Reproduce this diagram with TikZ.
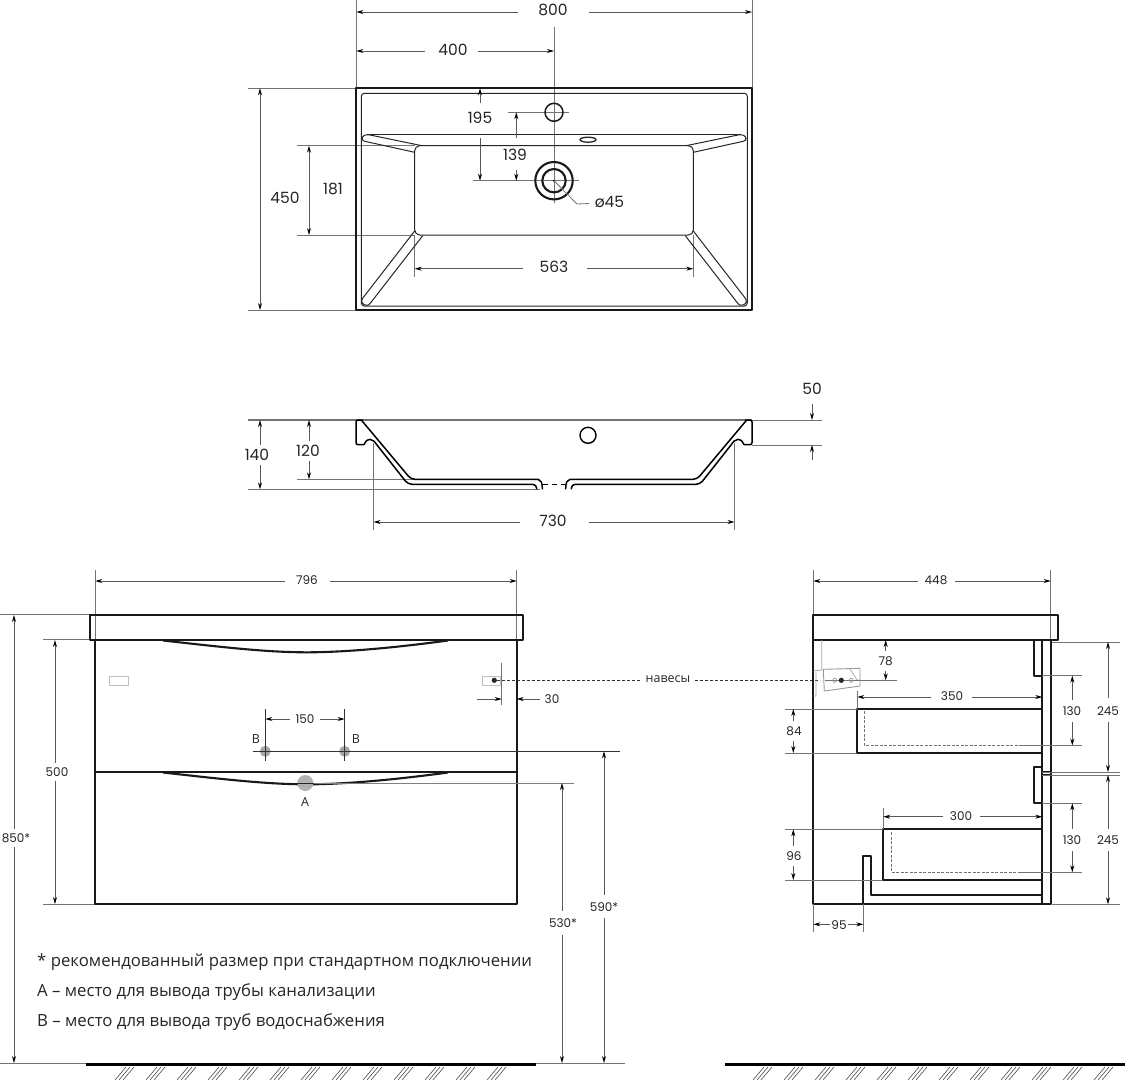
\documentclass[tikz,border=0pt]{standalone}
\usepackage{fontspec}
\setmainfont{Poppins}
\newfontfamily\legendfont{Open Sans}
\usetikzlibrary{arrows.meta}

\begin{document}
\begin{tikzpicture}[x=1pt, y=-1pt, line join=round]
\tikzstyle{every node}+=[inner sep=0pt, text=black!85]
\tikzstyle{bold}=[black!90, line width=2.1pt]
\tikzstyle{thinline}=[black!85, line width=1pt]
\tikzstyle{ext}=[black!55, line width=0.8pt]
\tikzstyle{dim}=[black!65, line width=0.8pt, {Stealth[length=7pt,width=4pt,black]}-{Stealth[length=7pt,width=4pt,black]}]
\tikzstyle{dimone}=[black!65, line width=0.8pt, -{Stealth[length=7pt,width=4pt,black]}]
\tikzstyle{big}=[font=\fontsize{15.5}{17}\selectfont]
\tikzstyle{small}=[font=\fontsize{12}{14}\selectfont]
\tikzstyle{smallcyr}=[font=\legendfont\fontsize{12.5}{14}\selectfont]
\tikzstyle{legend}=[anchor=base west, font=\legendfont\fontsize{16.75}{18}\selectfont]
\useasboundingbox (0,0) rectangle (1125,1080);
\fill [white] (0,0) rectangle (1125,1080);
% top view
\draw [ext] (356.3,0) -- (356.3,88);
\draw [ext] (752,0) -- (752,88);
\draw [ext] (554,27) -- (554,203);
\draw [ext] (248,88.3) -- (356,88.3);
\draw [ext] (248,310) -- (356,310);
\draw [ext] (297,145.7) -- (415,145.7);
\draw [ext] (297,235) -- (415,235);
\draw [ext] (507.7,112.3) -- (569,112.3);
\draw [ext] (472.7,180.7) -- (579,180.7);
\draw [ext] (414.7,235) -- (414.7,277);
\draw [ext] (693.3,235) -- (693.3,277);
\draw [bold] (356.3,88.3) rectangle (752,310);
\draw [thinline, rounded corners=3] (361.3,93.3) rectangle (747.3,306);
\draw [thinline, rounded corners=5] (414.7,145.7) rectangle (693.3,235);
\draw [thinline] (366.7,134.3) -- (741.3,134.3);
\foreach \s/\o in {1/0,-1/1108} {
\begin{scope}[shift={(\o,0)}, xscale=\s]
\draw [thinline, rounded corners=2.5] (421,145.5) -- (366.7,134.3) -- (362,136.5) -- (362,140.7) -- (414.7,152.3);
\draw [thinline, rounded corners=2.5] (414.7,231) -- (361.3,300) -- (362,304) -- (368.3,305.8) -- (422.7,235.7);
\end{scope}
}
\draw [bold, line width=1.5pt] (554,112.3) circle (9);
\draw [thinline, line width=1.3pt] (588,139.7) ellipse (8 and 2.5);
\draw [bold] (554,180.7) circle (18.7);
\draw [bold] (554,180.7) circle (11.7);
\fill [black] (554,180.7) circle (1.2);
\draw [ext] (554,180.7) -- (577,204) -- (589,203.5);
\node [big] (lab45) at (609.5,202) {ø45};
\draw [dimone] (518,12) -- (356.3,12);
\draw [dimone] (589,12) -- (752,12);
\node [big] (lab800) at (553,10) {800};
\draw [dimone] (425,51) -- (356.3,51);
\draw [dimone] (478,51) -- (554,51);
\node [big] (lab400) at (453,50) {400};
\draw [dimone] (480,103) -- (480,88.3);
\draw [dimone] (480,138) -- (480,180.7);
\node [big] (lab195) at (480,118) {195};
\draw [dimone] (516.3,138) -- (516.3,112.3);
\draw [dimone] (516.3,170) -- (516.3,180.7);
\node [big] (lab139) at (515,155) {139};
\draw [dimone] (522.7,268.7) -- (414.7,268.7);
\draw [dimone] (586.7,268.7) -- (693.3,268.7);
\node [big] (lab563) at (554,267) {563};
\draw [dim] (260,88.3) -- (260,310);
\node [big] (lab450) at (285,198) {450};
\draw [dim] (309,145.7) -- (309,235);
\node [big] (lab181) at (333,189) {181};
% section
\draw [ext, line width=1.1pt] (248,420) -- (356,420);
\draw [ext, line width=1.1pt] (356,420) -- (752,420);
\draw [ext] (752,420) -- (822,420);
\draw [ext] (752,445) -- (822,445);
\draw [ext] (297,479.3) -- (540,479.3);
\draw [ext] (248,489.3) -- (540,489.3);
\draw [ext] (373.5,443) -- (373.5,530);
\draw [ext] (734.5,443) -- (734.5,530);
\foreach \s/\o in {1/0,-1/1108} {
\begin{scope}[shift={(\o,0)}, xscale=\s]
\draw [black, line width=1.5pt, rounded corners=2] (363,420) -- (356,420) -- (356,444.7) -- (364,444.7);
\draw [black, line width=1.5pt] (364,444.7) .. controls (366,441) and (367,439) .. (370,439.3) .. controls (373,439.5) and (375,442) .. (377,445);
\draw [black, line width=1.5pt, rounded corners=4] (377,445) -- (408,484.3) -- (536.7,484.3) -- (536.7,489.3);
\draw [black, line width=1.5pt, rounded corners=4] (361.3,420) -- (411,479.3) -- (538,479.3);
\draw [black, line width=1.5pt] (538,479.3) .. controls (541,480) and (542.3,482) .. (542.3,489.3);
\end{scope}
}
\draw [black, line width=0.9pt, dashed, dash pattern=on 5pt off 4pt] (543,484) -- (565,484);
\draw [black, line width=1.4pt] (588,435.3) circle (8);
\draw [dimone] (812,404) -- (812,420);
\draw [dimone] (812,460) -- (812,445);
\node [big] (lab50) at (812,389) {50};
\draw [dim] (309,420) -- (309,479.3);
\fill [white] (293,441) rectangle (324,461);
\node [big] (lab120) at (308,451) {120};
\draw [dim] (260,420) -- (260,489.3);
\fill [white] (242,445) rectangle (273,465);
\node [big] (lab140) at (257,455) {140};
\draw [dimone] (520,522) -- (373.5,522);
\draw [dimone] (589,522) -- (734.5,522);
\node [big] (lab730) at (553,521) {730};
% front view
\draw [ext] (95.3,570) -- (95.3,640);
\draw [ext] (516.7,570) -- (516.7,640);
\draw [ext] (0,614.7) -- (90,614.7);
\draw [ext] (43,639.7) -- (90,639.7);
\draw [ext] (43,904) -- (95,904);
\draw [bold] (89.7,614.7) rectangle (522.7,639.7);
\draw [bold] (95.3,639.7) rectangle (516.7,904);
\draw [bold] (95.3,771.7) -- (516.7,771.7);
\draw [bold] (163,640.5) .. controls (230,648) and (270,652.5) .. (310,652.3) .. controls (350,652) and (400,647) .. (448,640.5);
\draw [bold] (163,772.5) .. controls (230,780) and (270,784.5) .. (310,784.3) .. controls (350,784) and (400,779) .. (448,772.5);
\draw [black!25, line width=0.8pt] (109,676.7) rectangle (128,685);
\draw [black!25, line width=0.8pt] (482.3,676.7) rectangle (500,685);
\fill [black!85] (494.3,680.3) circle (2.6);
\draw [black!80, line width=0.8pt, dashed, dash pattern=on 3pt off 2pt] (497,680.3) -- (640,680.3);
\node [smallcyr] (labhinge) at (668,679) {навесы};
\draw [black!80, line width=0.8pt, dashed, dash pattern=on 3pt off 2pt] (695,680.3) -- (820,680.3);
\draw [ext] (501.7,662.7) -- (501.7,705);
\draw [dimone] (477,699) -- (501.7,699);
\draw [dimone] (540,699) -- (516.7,699);
\node [small] (lab30) at (552,699) {30};
\draw [ext, black!80] (265.3,709) -- (265.3,760.7);
\draw [ext, black!80] (344.7,709) -- (344.7,760.7);
\draw [dimone] (290,719) -- (265.3,719);
\draw [dimone] (320,719) -- (344.7,719);
\node [small] (lab150) at (305,719) {150};
\draw [ext, black!80] (253,751.3) -- (620,751.3);
\fill [black!35] (265.3,751.3) circle (5.5);
\fill [black!35] (344.7,751.3) circle (5.5);
\draw [ext, black!80] (265.3,745) -- (265.3,758);
\draw [ext, black!80] (344.7,745) -- (344.7,758);
\draw [ext, black!80] (259,751.3) -- (351,751.3);
\node [smallcyr] (labbl) at (256,739) {В};
\node [smallcyr] (labbr) at (356,739) {В};
\draw [black!50, line width=1pt] (310,783) -- (574,783);
\fill [black!30] (305.3,783) circle (8);
\draw [black!85, line width=1.2pt] (297,783.5) -- (314,783.5);
\node [smallcyr] (laba) at (305,802) {А};
\draw [dim] (55,640) -- (55,904);
\fill [white] (42,763) rectangle (72,781);
\node [small] (lab500) at (57,772) {500};
\draw [dim] (14,615) -- (14,1063);
\fill [white] (2,829) rectangle (34,847);
\node [small] (lab850) at (16,838) {850*};
\draw [dimone] (285,581) -- (95.3,581);
\draw [dimone] (330,581) -- (516.7,581);
\node [small] (lab796) at (307,580) {796};
\draw [dimone] (604,895) -- (604,751.3);
\draw [dimone] (604,918) -- (604,1063);
\node [small] (lab590) at (604,907) {590*};
\draw [dimone] (562,911) -- (562,783);
\draw [dimone] (562,935) -- (562,1063);
\node [small] (lab530) at (563,923) {530*};
\node [legend] (note1) at (37,966) {* рекомендованный размер при стандартном подключении};
\node [legend] (note2) at (37,996) {А – место для вывода трубы канализации};
\node [legend] (note3) at (37,1026) {В – место для вывода труб водоснабжения};
% floor
\draw [ext] (0,1063.5) -- (86,1063.5);
\draw [ext] (536,1063.5) -- (625,1063.5);
\draw [black, line width=3pt] (86,1064.5) -- (536,1064.5);
\draw [black, line width=3pt] (725,1064.5) -- (1125,1064.5);
\foreach \gx in {115,146,177,208,239,270,301,332,363,394,425,456,487,753,784,815,846,877,908,939,970,1001,1032,1063,1094} {
\foreach \dx in {0,4,8} {
\draw [black!70, line width=0.6pt] (\gx+\dx,1080) -- (\gx+\dx+11,1067);
}
}
% side view
\draw [ext] (813.3,570) -- (813.3,640);
\draw [ext] (1050.7,570) -- (1050.7,640);
\draw [bold] (813.3,614.7) rectangle (1058.3,639.7);
\draw [bold] (813.3,639.7) -- (813.3,904.3) -- (1050.7,904.3) -- (1050.7,639.7);
\draw [bold] (1042.3,639.7) -- (1042.3,904.3);
\draw [bold] (1034.3,639.7) -- (1034.3,675.7) -- (1042.3,675.7);
\draw [bold] (1042.3,766.7) -- (1034.3,766.7) -- (1034.3,803.3) -- (1042.3,803.3);
\draw [bold, line width=1.4pt] (1042.3,772) -- (1050.7,772);
\draw [bold, line width=1.4pt] (1042.3,775) -- (1050.7,775);
\draw [bold] (1042.3,709) -- (857.3,709) -- (857.3,753) -- (1042.3,753);
\draw [black!55, line width=0.9pt, dashed, dash pattern=on 3pt off 1.5pt] (864.7,711) -- (864.7,745.5) -- (1042,745.5);
\draw [bold] (1042.3,829.3) -- (883.3,829.3) -- (883.3,880) -- (1042.3,880);
\draw [black!55, line width=0.9pt, dashed, dash pattern=on 3pt off 1.5pt] (891.3,832) -- (891.3,872.3) -- (1042,872.3);
\draw [bold] (863.3,904.3) -- (863.3,855.7) -- (871.3,855.7) -- (871.3,895.3) -- (1042.3,895.3);
\draw [black!35, line width=0.8pt] (821.7,640) -- (821.7,670) -- (813.3,671) (813.3,696) -- (816,696) -- (816,672);
\draw [black!40, line width=0.9pt] (823.3,669.3) -- (860,668.3) -- (860,686) -- (824.3,691) -- cycle;
\draw [black!35, line width=0.7pt] (850,669) -- (857,680) -- (860,680);
\draw [ext] (825,680.3) -- (896.7,680.3);
\fill [black!85] (841.3,680.3) circle (2.6);
\draw [black!40, line width=0.7pt] (834.7,680.3) circle (2);
\draw [black!40, line width=0.7pt] (851.3,680.3) circle (2);
\draw [dimone] (885.7,651) -- (885.7,640);
\draw [dimone] (885.7,671) -- (885.7,680.3);
\node [small] (lab78) at (885.7,661) {78};
\draw [ext] (857.3,691) -- (857.3,709);
\draw [dimone] (930.7,697) -- (857.3,697);
\draw [dimone] (971.7,697) -- (1042.3,697);
\node [small] (lab350) at (952,696) {350};
\draw [ext] (785,709) -- (857,709);
\draw [ext] (785,753) -- (857,753);
\draw [dimone] (793.3,721) -- (793.3,709);
\draw [dimone] (793.3,741) -- (793.3,753);
\node [small] (lab84) at (794,731) {84};
\draw [ext] (1042,675.7) -- (1081.7,675.7);
\draw [ext] (1019,745.5) -- (1081.7,745.5);
\draw [dimone] (1072.3,700) -- (1072.3,675.7);
\draw [dimone] (1072.3,722) -- (1072.3,745.5);
\node [small] (lab130a) at (1072,711) {130};
\draw [ext] (1052,642) -- (1120,642);
\draw [ext] (1042,772) -- (1120,772);
\draw [ext] (1042,775) -- (1120,775);
\draw [dimone] (1108,698) -- (1108,642);
\draw [dimone] (1108,722) -- (1108,772);
\node [small] (lab245a) at (1108,711) {245};
\draw [ext] (1042,803.3) -- (1081.7,803.3);
\draw [ext] (1019,872.3) -- (1081.7,872.3);
\draw [dimone] (1072.3,829) -- (1072.3,803.3);
\draw [dimone] (1072.3,851) -- (1072.3,872.3);
\node [small] (lab130b) at (1072,840) {130};
\draw [ext] (1052,904.3) -- (1120,904.3);
\draw [dimone] (1108,829) -- (1108,775);
\draw [dimone] (1108,851) -- (1108,904.3);
\node [small] (lab245b) at (1108,840) {245};
\draw [ext] (883.3,808) -- (883.3,829);
\draw [dimone] (942.7,816.7) -- (883.3,816.7);
\draw [dimone] (980,816.7) -- (1042.3,816.7);
\node [small] (lab300) at (961,816) {300};
\draw [ext] (785,829.3) -- (883,829.3);
\draw [ext] (785,880) -- (883,880);
\draw [dimone] (793.3,846) -- (793.3,829.3);
\draw [dimone] (793.3,866) -- (793.3,880);
\node [small] (lab96) at (794,856) {96};
\draw [ext] (813.3,904) -- (813.3,931.7);
\draw [ext] (863.3,904) -- (863.3,931.7);
\draw [dimone] (830,924.3) -- (813.3,924.3);
\draw [dimone] (848,924.3) -- (863.3,924.3);
\node [small] (lab95) at (839,925) {95};
\draw [dimone] (918,581) -- (813.3,581);
\draw [dimone] (955,581) -- (1050.7,581);
\node [small] (lab448) at (936,580) {448};
\end{tikzpicture}
\end{document}
